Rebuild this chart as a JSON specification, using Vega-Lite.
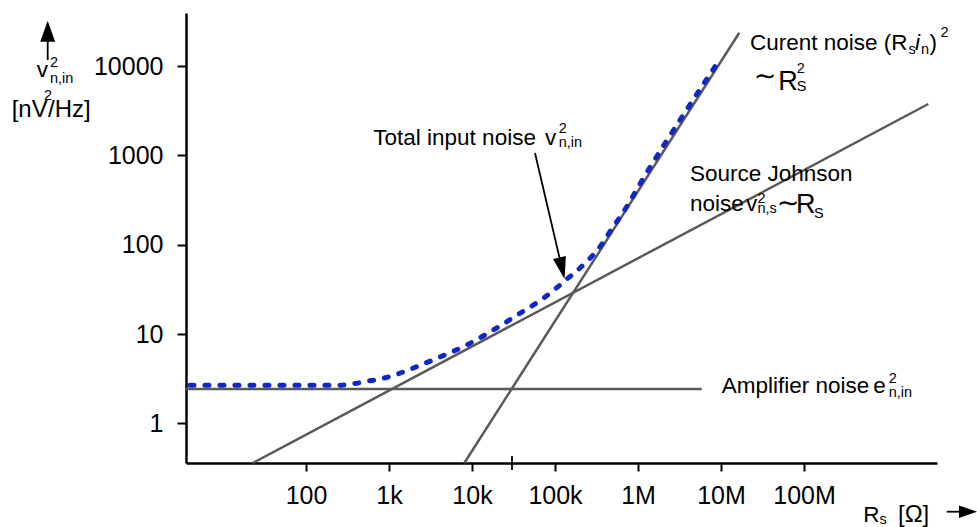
{
  "$schema": "https://vega.github.io/schema/vega-lite/v6.json",
  "width": 751,
  "height": 450,
  "autosize": {"type": "none"},
  "padding": {"left": 186, "top": 13, "right": 40, "bottom": 64},
  "background": "white",
  "config": {
    "view": {"stroke": null},
    "font": "Liberation Sans",
    "text": {"font": "Liberation Sans", "color": "#000000"}
  },
  "datasets": {
    "lines": [
      {"series": "amplifier", "R": 3.583, "v": 2.421},
      {"series": "amplifier", "R": 5855000, "v": 2.421},
      {"series": "johnson", "R": 22.8, "v": 0.3593},
      {"series": "johnson", "R": 3145000000, "v": 3764},
      {"series": "current", "R": 8077, "v": 0.3593},
      {"series": "current", "R": 16620000, "v": 23660}
    ],
    "total": [
      {"R": 4.0, "v": 2.665},
      {"R": 234, "v": 2.665},
      {"R": 356, "v": 2.755},
      {"R": 538, "v": 2.95},
      {"R": 853, "v": 3.19},
      {"R": 1240, "v": 3.54},
      {"R": 1790, "v": 4.02},
      {"R": 3930, "v": 5.43},
      {"R": 8630, "v": 7.53},
      {"R": 18070, "v": 11.09},
      {"R": 37860, "v": 17.06},
      {"R": 72300, "v": 25.1},
      {"R": 138300, "v": 41.0},
      {"R": 264000, "v": 70.4},
      {"R": 348400, "v": 95.0},
      {"R": 460000, "v": 140},
      {"R": 731000, "v": 266.4},
      {"R": 1057000, "v": 480},
      {"R": 3210000, "v": 2490},
      {"R": 8470000, "v": 9840}
    ],
    "labels": [
      {"role": "main", "text": "Total input noise", "R": 647.0, "v": 1308},
      {"role": "main", "text": "v", "R": 75800, "v": 1308},
      {"role": "small", "text": "2", "R": 111000, "v": 1768},
      {"role": "small", "text": "n,in", "R": 111000, "v": 1251},
      {"role": "main", "text": "Curent noise (R", "R": 22360000, "v": 15150},
      {"role": "small", "text": "s", "R": 1816000000, "v": 13660},
      {"role": "italic", "text": "i", "R": 2175000000, "v": 15150},
      {"role": "small", "text": "n", "R": 2568000000, "v": 13660},
      {"role": "main", "text": ")", "R": 3251000000, "v": 15150},
      {"role": "small", "text": "2", "R": 4411000000, "v": 21350},
      {"role": "tilde", "text": "∼", "R": 33890000, "v": 7609},
      {"role": "big", "text": "R", "R": 49020000, "v": 5400},
      {"role": "small", "text": "2", "R": 81680000, "v": 8309},
      {"role": "small", "text": "S", "R": 81680000, "v": 5303},
      {"role": "main", "text": "Source Johnson", "R": 4232000, "v": 516.9},
      {"role": "main", "text": "noise", "R": 4232000, "v": 240.3},
      {"role": "main", "text": "v", "R": 20010000, "v": 240.3},
      {"role": "small", "text": "2", "R": 27530000, "v": 290.8},
      {"role": "small", "text": "n,s", "R": 27530000, "v": 224.7},
      {"role": "tilde", "text": "∼", "R": 64170000, "v": 285.6},
      {"role": "big", "text": "R", "R": 80110000, "v": 224.7},
      {"role": "small", "text": "S", "R": 132000000, "v": 197.5},
      {"role": "main", "text": "Amplifier noise", "R": 10196000, "v": 2.167},
      {"role": "main", "text": "e", "R": 683900000, "v": 2.167},
      {"role": "small", "text": "2", "R": 1048300000, "v": 2.805},
      {"role": "small", "text": "n,in", "R": 1048300000, "v": 1.986},
      {"role": "main", "text": "v", "R": 0.0569, "v": 7492},
      {"role": "small", "text": "2", "R": 0.08232, "v": 9847},
      {"role": "small", "text": "n,in", "R": 0.08232, "v": 6418},
      {"role": "axis", "text": "[nV", "R": 0.02846, "v": 2670},
      {"role": "small", "text": "2", "R": 0.06974, "v": 4173},
      {"role": "axis", "text": "/Hz]", "R": 0.07788, "v": 2670},
      {"role": "main", "text": "R", "R": 518200000, "v": 0.07907},
      {"role": "small", "text": "s", "R": 812300000, "v": 0.07456},
      {"role": "axis", "text": "[Ω]", "R": 1357000000, "v": 0.07907}
    ],
    "arrows": [
      {"name": "total", "R": 57410, "v": 1064, "R2": 121400, "v2": 54.4},
      {"name": "yaxis", "R": 0.07725, "v": 11703, "R2": 0.07725, "v2": 24590},
      {"name": "xaxis", "R": 5240000000, "v": 0.10235, "R2": 9460000000, "v2": 0.10235},
      {"name": "crossing", "R": 30330, "v": 0.4303, "R2": 30330, "v2": 0.2999}
    ],
    "heads": [
      {"name": "total", "R": 121400, "v": 54.4},
      {"name": "yaxis", "R": 0.07725, "v": 24590},
      {"name": "xaxis", "R": 9460000000, "v": 0.10235}
    ]
  },
  "encoding": {
    "x": {
      "field": "R",
      "type": "quantitative",
      "scale": {"type": "log", "domain": [3.583, 4004000000], "nice": false, "zero": false},
      "axis": {
        "title": null,
        "values": [100, 1000, 10000, 100000, 1000000, 10000000, 100000000],
        "labelExpr": "datum.value >= 1e8 ? '100M' : datum.value >= 1e7 ? '10M' : datum.value >= 1e6 ? '1M' : datum.value >= 1e5 ? '100k' : datum.value >= 1e4 ? '10k' : datum.value >= 1e3 ? '1k' : '100'",
        "grid": false,
        "domainColor": "#000000",
        "domainWidth": 2.5,
        "tickColor": "#000000",
        "tickWidth": 2,
        "tickSize": 8,
        "labelFont": "Liberation Sans",
        "labelFontSize": 25,
        "labelColor": "#000000",
        "labelPadding": 12,
        "labelFlush": false,
        "labelOverlap": false
      }
    },
    "y": {
      "field": "v",
      "type": "quantitative",
      "scale": {"type": "log", "domain": [0.3593, 39330], "nice": false, "zero": false},
      "axis": {
        "title": null,
        "values": [1, 10, 100, 1000, 10000],
        "labelExpr": "'' + datum.value",
        "grid": false,
        "domainColor": "#000000",
        "domainWidth": 2.5,
        "tickColor": "#000000",
        "tickWidth": 2,
        "tickSize": 9,
        "labelFont": "Liberation Sans",
        "labelFontSize": 25,
        "labelColor": "#000000",
        "labelPadding": 14,
        "labelFlush": false,
        "labelOverlap": false
      }
    }
  },
  "layer": [
    {
      "data": {"name": "lines"},
      "mark": {"type": "line", "color": "#5a5a5a", "strokeWidth": 2.5},
      "encoding": {"detail": {"field": "series", "type": "nominal"}}
    },
    {
      "data": {"name": "total"},
      "mark": {"type": "line", "interpolate": "monotone", "color": "#1128c4", "strokeWidth": 5, "strokeDash": [4, 11], "strokeCap": "round"},
      "encoding": {}
    },
    {
      "data": {"name": "arrows"},
      "mark": {"type": "rule", "color": "#000000", "strokeWidth": 1.8},
      "encoding": {
        "x2": {"field": "R2"},
        "y2": {"field": "v2"}
      }
    },
    {
      "data": {"name": "heads"},
      "transform": [{"filter": "datum.name === 'total'"}],
      "mark": {"type": "point", "shape": "M-0.6,-1L0.6,-1L0,1Z", "filled": true, "size": 484, "angle": 346.8, "color": "#000000", "opacity": 1, "strokeWidth": 0}
    },
    {
      "data": {"name": "heads"},
      "transform": [{"filter": "datum.name === 'yaxis'"}],
      "mark": {"type": "point", "shape": "M-0.71,1L0.71,1L0,-1Z", "filled": true, "size": 441, "color": "#000000", "opacity": 1, "strokeWidth": 0}
    },
    {
      "data": {"name": "heads"},
      "transform": [{"filter": "datum.name === 'xaxis'"}],
      "mark": {"type": "point", "shape": "M-1,-0.7L1,0L-1,0.7Z", "filled": true, "size": 324, "color": "#000000", "opacity": 1, "strokeWidth": 0}
    },
    {
      "data": {"name": "labels"},
      "transform": [{"filter": "datum.role === 'main'"}],
      "mark": {"type": "text", "align": "left", "baseline": "alphabetic", "fontSize": 22.5, "font": "Liberation Sans", "color": "#000000"},
      "encoding": {"text": {"field": "text"}}
    },
    {
      "data": {"name": "labels"},
      "transform": [{"filter": "datum.role === 'italic'"}],
      "mark": {"type": "text", "align": "left", "baseline": "alphabetic", "fontSize": 22.5, "fontStyle": "italic", "font": "Liberation Sans", "color": "#000000"},
      "encoding": {"text": {"field": "text"}}
    },
    {
      "data": {"name": "labels"},
      "transform": [{"filter": "datum.role === 'small'"}],
      "mark": {"type": "text", "align": "left", "baseline": "alphabetic", "fontSize": 14.5, "font": "Liberation Sans", "color": "#000000"},
      "encoding": {"text": {"field": "text"}}
    },
    {
      "data": {"name": "labels"},
      "transform": [{"filter": "datum.role === 'big'"}],
      "mark": {"type": "text", "align": "left", "baseline": "alphabetic", "fontSize": 27, "font": "Liberation Sans", "color": "#000000"},
      "encoding": {"text": {"field": "text"}}
    },
    {
      "data": {"name": "labels"},
      "transform": [{"filter": "datum.role === 'axis'"}],
      "mark": {"type": "text", "align": "left", "baseline": "alphabetic", "fontSize": 24, "font": "Liberation Sans", "color": "#000000"},
      "encoding": {"text": {"field": "text"}}
    },
    {
      "data": {"name": "labels"},
      "transform": [{"filter": "datum.role === 'tilde'"}],
      "mark": {"type": "text", "align": "center", "baseline": "middle", "fontSize": 27, "font": "DejaVu Sans", "color": "#000000"},
      "encoding": {"text": {"field": "text"}}
    }
  ]
}
